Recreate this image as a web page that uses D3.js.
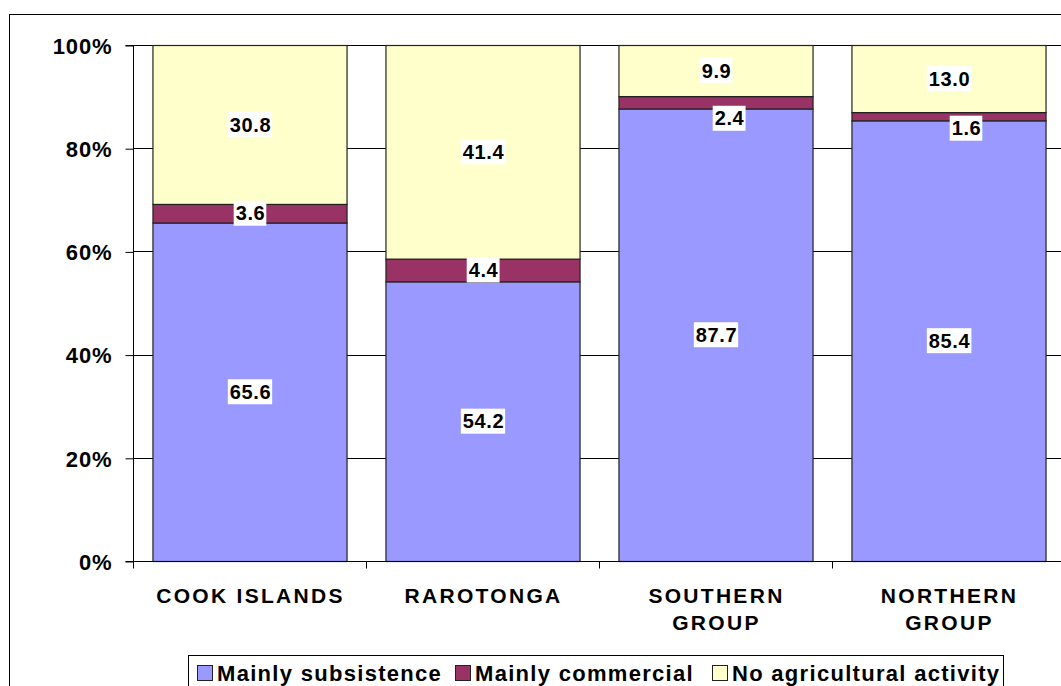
<!DOCTYPE html>
<html><head><meta charset="utf-8">
<script src="https://cdn.jsdelivr.net/npm/d3@7"></script>
<style>
body{margin:0;background:#fff;}
svg{display:block;font-family:"Liberation Sans",Arial,sans-serif;font-weight:bold;}
</style></head>
<body><svg id="c" width="1061" height="686"></svg>
<script>
const categories = [["COOK ISLANDS"], ["RAROTONGA"], ["SOUTHERN", "GROUP"], ["NORTHERN", "GROUP"]];
const seriesNames = ["Mainly subsistence", "Mainly commercial", "No agricultural activity"];
const subsistence = [65.6, 54.2, 87.7, 85.4];
const commercial = [3.6, 4.4, 2.4, 1.6];
const noActivity = [30.8, 41.4, 9.9, 13.0];
const yTicks = [0, 20, 40, 60, 80, 100];
const colors = ["#9999FF", "#993366", "#FFFFCC"];
// label nudges (px) for the commercial series labels that Excel moved off-centre
const commercialNudge = [[0, 0], [0, 0], [13, 16], [17, 12]];

const svg = d3.select("#c");
const keys = categories.map(c => c.join(" "));
const rows = keys.map((k, i) => ({ key: k, s0: subsistence[i], s1: commercial[i], s2: noActivity[i] }));

const L = 133, R = 1065, T = 45, B = 561;
const x = d3.scaleBand().domain(keys).range([L, R]).paddingInner(0.167).paddingOuter(0.0835);
const y = d3.scaleLinear().domain([0, 100]).range([B, T]);

// outer chart border
svg.append("rect").attr("x", 9.5).attr("y", 14.5).attr("width", 1100).attr("height", 700)
  .attr("fill", "none").attr("stroke", "#000").attr("stroke-width", 1);

// gridlines
svg.append("g").selectAll("line").data(yTicks.filter(t => t > 0)).join("line")
  .attr("x1", L).attr("x2", R).attr("y1", d => Math.round(y(d)) + 0.5).attr("y2", d => Math.round(y(d)) + 0.5)
  .attr("stroke", "#000").attr("stroke-width", 1);

// y axis
const yAxis = d3.axisLeft(y).tickValues(yTicks).tickFormat(d => d + "%").tickSize(8).tickPadding(13);
const gy = svg.append("g").attr("transform", `translate(${L + 0.5},0.5)`).call(yAxis);
gy.select(".domain").attr("stroke", "#000").attr("d", `M-8,${T}H0V${B}H-8`);
gy.selectAll(".tick line").attr("stroke", "#000");
gy.selectAll(".tick text").attr("fill", "#000").attr("font-size", 22).attr("letter-spacing", 0.9)
  .attr("font-family", '"Liberation Sans",Arial,sans-serif').attr("font-weight", "bold").attr("dy", "0.35em");

// stacked bars
const stack = d3.stack().keys(["s0", "s1", "s2"]);
const series = stack(rows);
const gBars = svg.append("g");
series.forEach((s, si) => {
  gBars.append("g").selectAll("rect").data(s).join("rect")
    .attr("x", d => x(d.data.key) + 0.5)
    .attr("width", x.bandwidth())
    .attr("y", d => y(d[1]) + 0.5)
    .attr("height", d => y(d[0]) - y(d[1]))
    .attr("fill", colors[si]).attr("stroke", "#222").attr("stroke-width", 1.2);
});

// x axis
const gx = svg.append("g").attr("transform", `translate(0,${B + 0.5})`);
gx.append("line").attr("x1", L).attr("x2", R).attr("stroke", "#000");
const step = x.step();
const bounds = keys.map((k, i) => L + i * step);
gx.selectAll(".tk").data(bounds).join("line").attr("class", "tk")
  .attr("x1", d => Math.round(d) + 0.5).attr("x2", d => Math.round(d) + 0.5).attr("y1", 0).attr("y2", 7).attr("stroke", "#000");
const lbl = gx.selectAll(".cl").data(categories).join("text").attr("class", "cl")
  .attr("x", (d, i) => x(keys[i]) + x.bandwidth() / 2 + 1)
  .attr("text-anchor", "middle").attr("font-size", 21).attr("letter-spacing", 2.3).attr("fill", "#000");
lbl.each(function (d) {
  d3.select(this).selectAll("tspan").data(d).join("tspan")
    .attr("x", d3.select(this).attr("x")).attr("y", (t, j) => 41 + j * 27).text(t => t);
});

// data labels
const gLab = svg.append("g");
series.forEach((s, si) => {
  s.forEach((d, i) => {
    const nudge = si === 1 ? commercialNudge[i] : [0, 0];
    const cx = x(d.data.key) + x.bandwidth() / 2 + 1 + nudge[0];
    const cy = y((d[0] + d[1]) / 2) + nudge[1];
    const txt = d.data["s" + si].toFixed(1);
    const g = gLab.append("g").attr("transform", `translate(${cx},${cy})`);
    const t = g.append("text").attr("text-anchor", "middle").attr("dy", "0.36em")
      .attr("font-size", 20).attr("letter-spacing", 0.6).attr("fill", "#000").text(txt);
    const bb = t.node().getBBox();
    g.insert("rect", "text").attr("x", bb.x - 2).attr("y", -12.5).attr("width", bb.width + 3).attr("height", 25).attr("fill", "#fff");
  });
});

// legend
const lg = svg.append("g");
lg.append("rect").attr("x", 188.5).attr("y", 655.5).attr("width", 815).attr("height", 60)
  .attr("fill", "#fff").attr("stroke", "#000");
const legX = [197, 455, 712];
seriesNames.forEach((n, i) => {
  lg.append("rect").attr("x", legX[i] + 0.5).attr("y", 665.5).attr("width", 15).attr("height", 15)
    .attr("fill", colors[i]).attr("stroke", "#222");
  lg.append("text").attr("x", legX[i] + 20).attr("y", 681).attr("font-size", 22).attr("letter-spacing", 1.3)
    .attr("fill", "#000").text(n);
});
</script></body></html>
